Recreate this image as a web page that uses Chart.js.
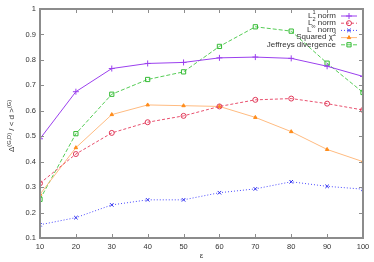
<!DOCTYPE html>
<html>
<head>
<meta charset="utf-8">
<script src="https://cdn.jsdelivr.net/npm/chart.js@4/dist/chart.umd.min.js"></script>
<style>
  html, body { margin: 0; padding: 0; background: #fff; }
  #wrap { width: 374px; height: 262px; }
</style>
</head>
<body>
<div id="wrap"><canvas id="c" width="374" height="262"></canvas></div>
<script>
// epsilon values on the x axis
var eps = [10, 20, 30, 40, 50, 60, 70, 80, 90, 100];

// series
var l1Norm   = [0.490, 0.675, 0.766, 0.786, 0.790, 0.808, 0.811, 0.806, 0.775, 0.735];
var l2Norm   = [0.315, 0.430, 0.513, 0.555, 0.580, 0.617, 0.643, 0.648, 0.628, 0.603];
var linfNorm = [0.152, 0.180, 0.230, 0.250, 0.250, 0.278, 0.293, 0.321, 0.303, 0.292];
var chi2     = [0.272, 0.455, 0.585, 0.623, 0.620, 0.617, 0.574, 0.518, 0.448, 0.400];
var jeffreys = [0.252, 0.510, 0.665, 0.723, 0.753, 0.853, 0.930, 0.913, 0.787, 0.672];

var yTicks = [0.1, 0.2, 0.3, 0.4, 0.5, 0.6, 0.7, 0.8, 0.9, 1];

// legend labels: [text, superscript, text]
var legendLabels = [
  ['L', '1', ' norm'],
  ['L', '2', ' norm'],
  ['L', '\u221e', ' norm'],
  ['Squared \u03c7', '2', ''],
  ['Jeffreys divergence', '', '']
];

function pts(arr) {
  return arr.map(function(v, i) { return { x: eps[i], y: v }; });
}

var FONT = '"Liberation Sans", Arial, sans-serif';

var series = [
  { data: l1Norm,   line: '#9b40ee', mark: '#9b40ee', dash: [],     style: 'cross',    r: 3,   fill: false },
  { data: l2Norm,   line: '#e8506e', mark: '#e03858', dash: [3, 2], style: 'circle',   r: 2.5, fill: false },
  { data: linfNorm, line: '#4a4aff', mark: '#2a2aee', dash: [1, 2], style: 'crossRot', r: 2.5, fill: false },
  { data: chi2,     line: '#ffbb80', mark: '#ff8c1a', dash: [],     style: 'triangle', r: 2,   fill: true  },
  { data: jeffreys, line: '#55cc55', mark: '#33bb33', dash: [4, 2], style: 'rect',     r: 3,   fill: false }
];

// text with a superscript in the middle
function richWidth(ctx, parts, size) {
  ctx.font = size + 'px ' + FONT;
  var w = ctx.measureText(parts[0]).width + ctx.measureText(parts[2]).width;
  ctx.font = (size * 0.7) + 'px ' + FONT;
  w += ctx.measureText(parts[1]).width;
  return w;
}
function richDraw(ctx, parts, x, y, size) {
  ctx.textAlign = 'left';
  ctx.textBaseline = 'middle';
  ctx.font = size + 'px ' + FONT;
  ctx.fillText(parts[0], x, y);
  x += ctx.measureText(parts[0]).width;
  ctx.font = (size * 0.7) + 'px ' + FONT;
  ctx.fillText(parts[1], x, y - size * 0.38);
  x += ctx.measureText(parts[1]).width;
  ctx.font = size + 'px ' + FONT;
  ctx.fillText(parts[2], x, y);
}

var framePlugin = {
  id: 'gpframe',
  afterDraw: function(chart) {
    var ctx = chart.ctx, a = chart.chartArea;
    var xs = chart.scales.x, ys = chart.scales.y;
    var L = Math.round(a.left), R = Math.round(a.right);
    var T = Math.round(a.top), B = Math.round(a.bottom);

    // border and inward ticks, as filled rects
    ctx.save();
    ctx.fillStyle = '#8c8c8c';
    ctx.fillRect(L - 1, T - 1, R - L + 2, 2);
    ctx.fillRect(L - 1, B - 1, R - L + 2, 2);
    ctx.fillRect(L - 1, T - 1, 2, B - T + 2);
    ctx.fillRect(R - 1, T - 1, 2, B - T + 2);
    eps.forEach(function(v) {
      var px = Math.round(xs.getPixelForValue(v));
      ctx.fillRect(px, B - 4, 1, 4);
      ctx.fillRect(px, T, 1, 4);
    });
    yTicks.forEach(function(v) {
      var py = Math.round(ys.getPixelForValue(v));
      ctx.fillRect(L, py, 4, 1);
      ctx.fillRect(R - 4, py, 4, 1);
    });
    ctx.restore();

    // axis titles
    ctx.save();
    ctx.fillStyle = '#333';
    ctx.font = '8px ' + FONT;
    ctx.textAlign = 'center';
    ctx.textBaseline = 'middle';
    ctx.fillText('\u03b5', (L + R) / 2, 256);
    ctx.translate(12, 126);
    ctx.rotate(-Math.PI / 2);
    var size = 8;
    var p1 = ['\u0394', '(G,D)', ' / < d >'];
    var p2 = ['', '(G)', ''];
    var w1 = richWidth(ctx, p1, size);
    var w = w1 + richWidth(ctx, p2, size);
    richDraw(ctx, p1, -w / 2, 0, size);
    richDraw(ctx, p2, -w / 2 + w1, 0, size);
    ctx.restore();

    // legend
    ctx.save();
    var rowY = 15.5, rightX = 336;
    legendLabels.forEach(function(lab, i) {
      var s = series[i];
      var y = rowY + i * 7.2;
      ctx.fillStyle = '#333';
      var lw = richWidth(ctx, lab, 8);
      richDraw(ctx, lab, rightX - lw, y, 8);
      ctx.strokeStyle = s.line;
      ctx.lineWidth = 1;
      ctx.setLineDash(s.dash);
      ctx.beginPath();
      ctx.moveTo(341, y + 0.5); ctx.lineTo(357, y + 0.5);
      ctx.stroke();
      ctx.setLineDash([]);
      ctx.strokeStyle = s.mark;
      ctx.fillStyle = s.fill ? s.mark : 'rgba(0,0,0,0)';
      Chart.helpers.drawPoint(ctx, { pointStyle: s.style, radius: s.r, rotation: 0, borderWidth: 1 }, 349, y + 0.5);
    });
    ctx.restore();
  }
};

new Chart(document.getElementById('c'), {
  type: 'line',
  data: {
    datasets: series.map(function(s) {
      return {
        data: pts(s.data),
        borderColor: s.line,
        borderWidth: 1,
        borderDash: s.dash,
        pointStyle: s.style,
        pointRadius: s.r,
        pointBorderColor: s.mark,
        pointBackgroundColor: s.fill ? s.mark : 'rgba(0,0,0,0)',
        pointBorderWidth: 1,
        tension: 0
      };
    })
  },
  plugins: [framePlugin],
  options: {
    responsive: false,
    animation: false,
    devicePixelRatio: 1,
    layout: { padding: { left: 0, top: 9, right: 11, bottom: 0 } },
    plugins: { legend: { display: false }, tooltip: { enabled: false } },
    scales: {
      x: {
        type: 'linear', min: 10, max: 100,
        afterFit: function(s) { s.height = 24; },
        afterBuildTicks: function(s) { s.ticks = eps.map(function(v) { return { value: v }; }); },
        grid: { display: false, drawTicks: false },
        border: { display: false },
        ticks: { color: '#333', font: { size: 7.5, family: FONT }, padding: 4, maxRotation: 0 }
      },
      y: {
        min: 0.1, max: 1,
        afterFit: function(s) { s.width = 40; },
        afterBuildTicks: function(s) { s.ticks = yTicks.map(function(v) { return { value: v }; }); },
        grid: { display: false, drawTicks: false },
        border: { display: false },
        ticks: {
          color: '#333', font: { size: 7.5, family: FONT }, padding: 4,
          callback: function(v) { return String(Math.round(v * 10) / 10); }
        }
      }
    }
  }
});
</script>
</body>
</html>
